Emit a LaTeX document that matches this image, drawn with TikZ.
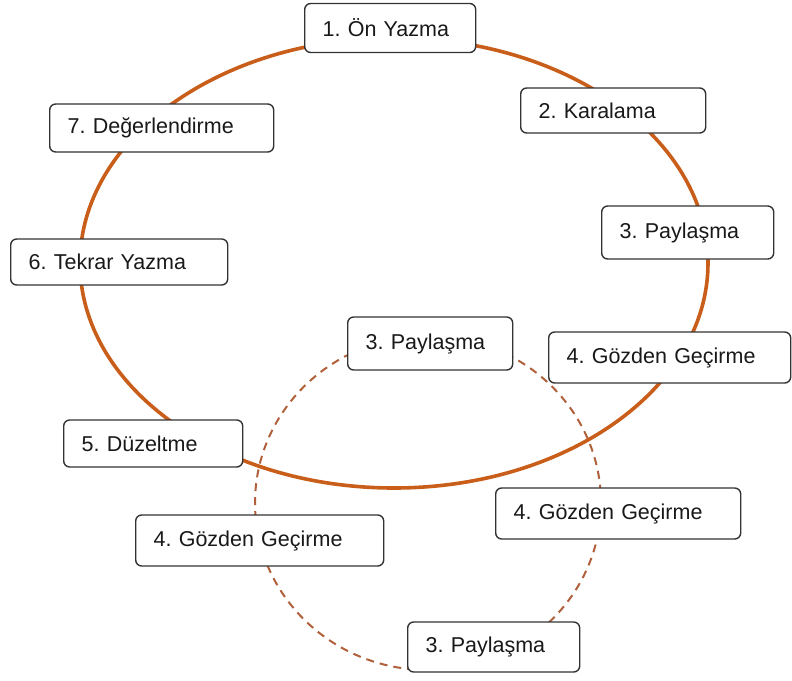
\documentclass[tikz,border=0pt]{standalone}
\usepackage{fontspec}
\setmainfont{Liberation Sans}
\frenchspacing
\definecolor{cycleorange}{HTML}{C85E1A}
\definecolor{loopbrown}{HTML}{B0603A}
\definecolor{boxline}{HTML}{333333}
\tikzset{stage/.style={draw=boxline, line width=1.4pt, rounded corners=6pt, fill=white,
  anchor=west, align=left, inner xsep=18pt, inner ysep=0pt, minimum height=49pt,
  text=black!90, font=\fontsize{21.5}{26}\selectfont}}
\begin{document}
\begin{tikzpicture}[x=1pt,y=-1pt]
\useasboundingbox (0,0) rectangle (792,680);
\coordinate (outer) at (394,263);
\coordinate (inner) at (428,503);
\draw[cycleorange, line width=3.6pt] (outer) ellipse [x radius=314, y radius=225];
\draw[loopbrown, line width=2pt, dash pattern=on 8pt off 6pt] (inner) ellipse [x radius=173, y radius=167];
\node[stage, text width=135pt] (yazma) at (304,28) {1. Ön Yazma};
\node[stage, text width=149pt, minimum height=45pt] (karalama) at (520,110.5) {2. Karalama};
\node[stage, text width=136pt, minimum height=53pt] (paylasma) at (601,232.5) {3. Paylaşma};
\node[stage, text width=206pt, minimum height=51pt] (gozden) at (548,357.5) {4. Gözden Geçirme};
\node[stage, text width=143pt, minimum height=47pt] (duzeltme) at (63,443.5) {5. Düzeltme};
\node[stage, text width=181pt, minimum height=46pt] (tekrar) at (10,262) {6. Tekrar Yazma};
\node[stage, text width=188pt, minimum height=48pt] (degerlendirme) at (49,128) {7. Değerlendirme};
\node[stage, text width=129pt, minimum height=53pt] (paylasmaIc) at (347,343.5) {3. Paylaşma};
\node[stage, text width=209pt, minimum height=51pt] (gozdenSag) at (495,513.5) {4. Gözden Geçirme};
\node[stage, text width=212pt, minimum height=51pt] (gozdenSol) at (135,540.5) {4. Gözden Geçirme};
\node[stage, text width=136pt, minimum height=50pt] (paylasmaAlt) at (407,647) {3. Paylaşma};
\end{tikzpicture}
\end{document}
